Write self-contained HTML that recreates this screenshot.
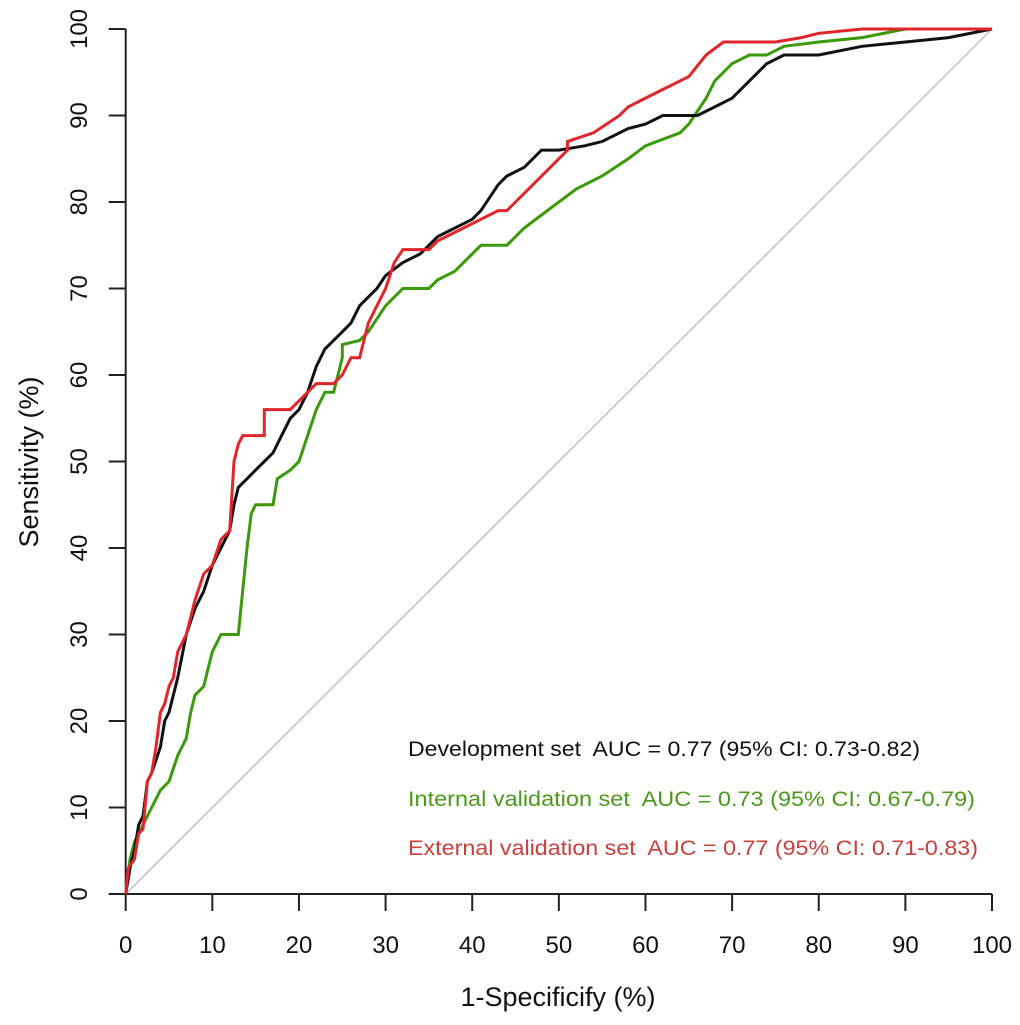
<!DOCTYPE html>
<html><head><meta charset="utf-8"><style>
html,body{margin:0;padding:0;background:#fff;}
svg{display:block;font-family:"Liberation Sans",Arial,sans-serif;}
text{white-space:pre;}
</style></head><body>
<svg id="chart" width="1020" height="1025"></svg>
<script>
const xTicks=[0,10,20,30,40,50,60,70,80,90,100];
const yTicks=[0,10,20,30,40,50,60,70,80,90,100];
const devX=[0,0.5,1,1.5,2,2.5,3,4,4.5,5,6,7,8,9,10,11,12,12.5,13,14,15,16,17,18,19,20,21,22,23,24,25,26,27,28,29,30,32,34,35,36,38,40,41,43,44,46,48,50,53,55,58,60,62,64,66,68,70,72,74,76,80,85,90,95,100];
const devY=[0,3,5,8,9,13,14,17,20,21,25,30,33,35,38,40,42,45,47,48,49,50,51,53,55,56,58,61,63,64,65,66,68,69,70,71.5,73,74,75,76,77,78,79,82,83,84,86,86,86.5,87,88.5,89,90,90,90,91,92,94,96,97,97,98,98.5,99,100];
const intX=[0,0.5,1,2,2.5,3,4,5,6,7,7.5,8,9,10,11,12,13,14,14.5,15,17,17.5,19,20,21,22,23,24,25,25,27,28,29,30,31,32,34,35,36,38,40,41,44,46,48,50,52,55,58,60,64,65,67,68,70,72,74,76,80,85,90,100];
const intY=[0,4,6,8,9,10,12,13,16,18,21,23,24,28,30,30,30,40,44,45,45,48,49,50,53,56,58,58,62,63.5,64,65,66.5,68,69,70,70,70,71,72,74,75,75,77,78.5,80,81.5,83,85,86.5,88,89,92,94,96,97,97,98,98.5,99,100,100];
const extX=[0,0.3,1,1.5,2,2.5,3,3.5,4,4.5,5,5.5,6,7,7.5,8,9,10,11,12,12.5,13,13.5,16,16,19,21,22,24,25,26,27,28,29,30,31,32,35,36,37,39,41,43,44,45,47,49,51,51,54,57,58,59,62,65,67,69,70,75,78,80,85,100];
const extY=[0,3,4,7,7.5,13,14,17,21,22,24,25,28,30,32,34,37,38,41,42,50,52,53,53,56,56,58,59,59,60,62,62,66,68,70,73,74.5,74.5,75.5,76,77,78,79,79,80,82,84,86,87,88,90,91,91.5,93,94.5,97,98.5,98.5,98.5,99,99.5,100,100];
const legendLabels=["Development set  AUC = 0.77 (95% CI: 0.73-0.82)","Internal validation set  AUC = 0.73 (95% CI: 0.67-0.79)","External validation set  AUC = 0.77 (95% CI: 0.71-0.83)"];

const NS="http://www.w3.org/2000/svg";
const svg=document.getElementById('chart');
const X0=125.7,X1=992,Y0=894,Y1=29;
function sx(v){return X0+(X1-X0)*v/100;}
function sy(v){return Y0-(Y0-Y1)*v/100;}
function mk(t,a,p){const e=document.createElementNS(NS,t);for(const k in a)e.setAttribute(k,a[k]);(p||svg).appendChild(e);return e;}

let d=mk('line',{x1:sx(0),y1:sy(0),x2:sx(100),y2:sy(100),stroke:'#bbbbbb','stroke-width':1.3});



let ax=mk('line',{x1:109,y1:Y0,x2:sx(100),y2:Y0,stroke:'#222','stroke-width':2});


let ay=mk('line',{x1:X0,y1:sy(0),x2:X0,y2:sy(100),stroke:'#222','stroke-width':2});



xTicks.forEach(v=>{
  let t=mk('line',{x1:sx(v),y1:Y0,x2:sx(v),y2:Y0+17,stroke:'#222','stroke-width':2});
  
  
  let l=mk('text',{x:sx(v),y:953,'text-anchor':'middle','font-size':24,fill:'#111'});
  l.textContent=v;
  
  
});
yTicks.forEach(v=>{
  let t=mk('line',{x1:X0-17,y1:sy(v),x2:X0,y2:sy(v),stroke:'#222','stroke-width':2});
  
  
  let l=mk('text',{x:0,y:0,'text-anchor':'middle','font-size':24,fill:'#111',transform:`translate(87,${sy(v)}) rotate(-90)`});
  l.textContent=v;
  
  
});

function curve(xs,ys,color,name){
  const pts=xs.map((x,i)=>sx(x).toFixed(1)+','+sy(ys[i]).toFixed(1)).join(' ');
  let p=mk('polyline',{points:pts,fill:'none',stroke:color,'stroke-width':3,'stroke-linejoin':'miter'});
  
  
}
curve(intX,intY,'#3a9a0a','internal-validation-curve');
curve(devX,devY,'#111111','development-curve');
curve(extX,extY,'#e0262a','external-validation-curve');

const legendColors=['#111111','#4a9a1a','#c8403c'];
const legendY=[756,806,855];
const legendW=[512,567,570];
legendLabels.forEach((s,i)=>{
  let t=mk('text',{x:408,y:legendY[i],'font-size':21,fill:legendColors[i],textLength:legendW[i],lengthAdjust:'spacingAndGlyphs'});
  t.textContent=s;
  
  
});

let xt=mk('text',{x:558,y:1006,'text-anchor':'middle','font-size':27,fill:'#111'});
xt.textContent='1-Specificify (%)';


let yt=mk('text',{x:0,y:0,'text-anchor':'middle','font-size':27,fill:'#111',transform:'translate(38,462) rotate(-90)'});
yt.textContent='Sensitivity (%)';


</script>
</body></html>
